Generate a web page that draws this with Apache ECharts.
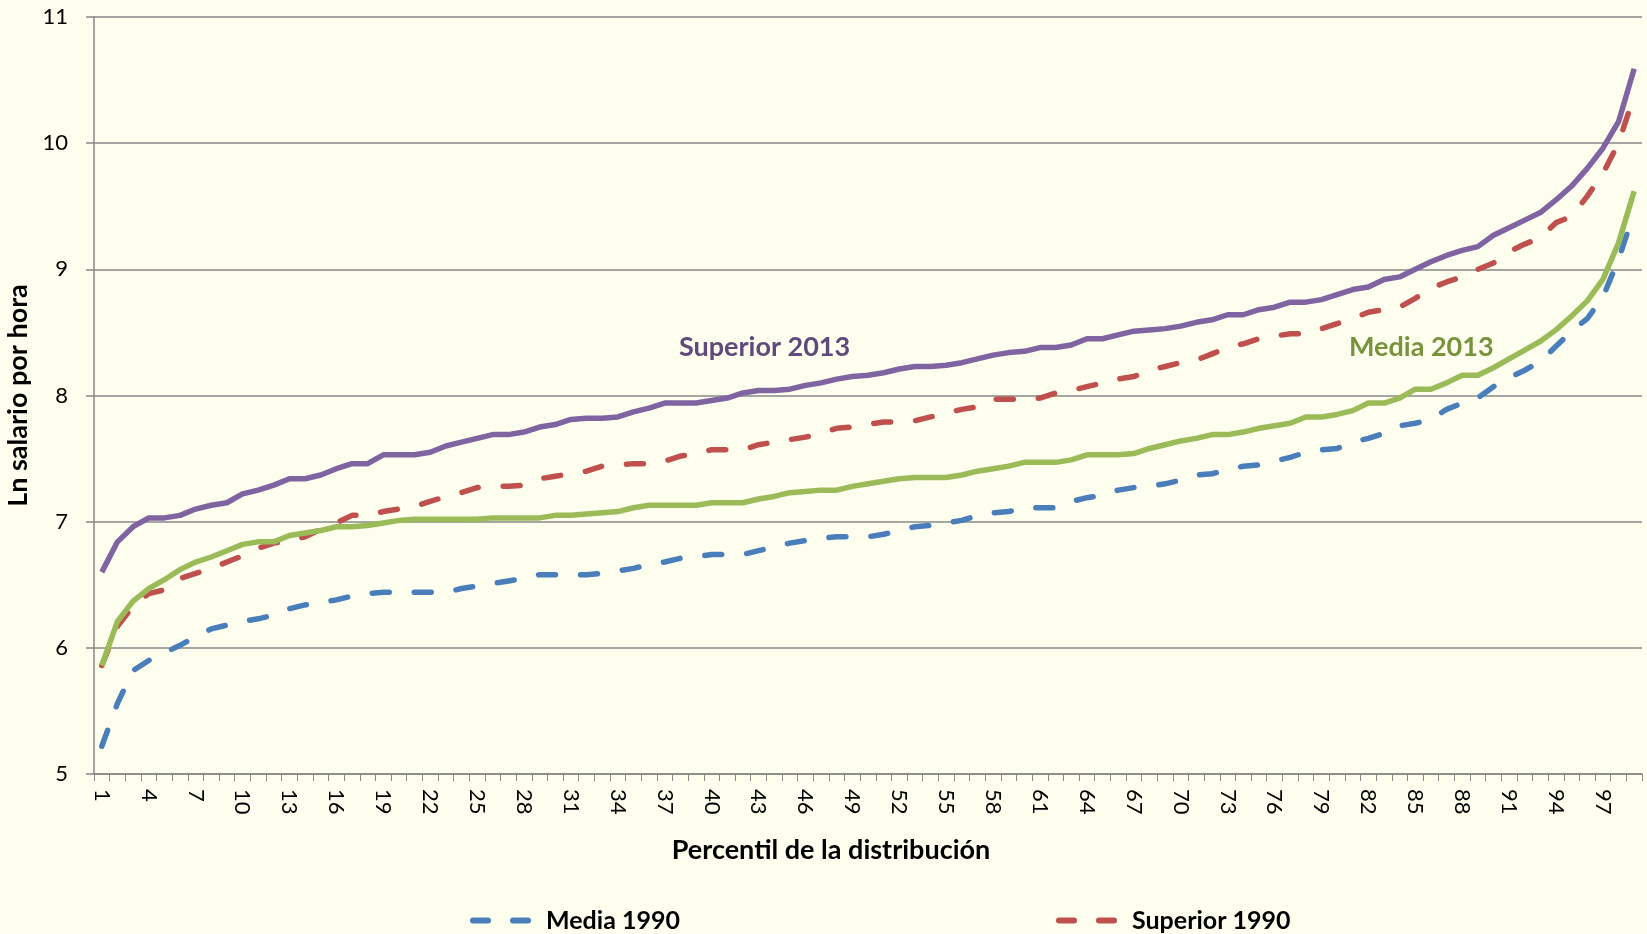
<!DOCTYPE html>
<html>
<head>
<meta charset="utf-8">
<script src="https://cdn.jsdelivr.net/npm/echarts@6/dist/echarts.min.js"></script>
<style>
html,body{margin:0;padding:0;background:#fefeef;}
#c{width:1647px;height:934px;}
</style>
</head>
<body>
<div id="c"></div>
<script>
var percentiles = [];
for (var i = 1; i <= 99; i++) percentiles.push(String(i));

var yTicks = [5, 6, 7, 8, 9, 10, 11];

var media1990 = [5.22,5.56,5.82,5.90,5.96,6.02,6.09,6.15,6.18,6.21,6.23,6.26,6.31,6.34,6.36,6.38,6.41,6.43,6.44,6.44,
6.44,6.44,6.44,6.47,6.49,6.51,6.53,6.55,6.58,6.58,6.58,6.58,6.59,6.61,6.63,6.66,6.68,6.71,6.72,6.74,
6.74,6.74,6.77,6.80,6.83,6.85,6.87,6.88,6.88,6.88,6.90,6.93,6.96,6.97,6.99,7.01,7.05,7.07,7.08,7.11,
7.11,7.11,7.16,7.19,7.21,7.25,7.27,7.28,7.30,7.33,7.37,7.38,7.41,7.44,7.45,7.48,7.51,7.55,7.57,7.58,
7.63,7.66,7.70,7.76,7.78,7.81,7.89,7.94,7.98,8.07,8.14,8.20,8.27,8.39,8.51,8.61,8.78,9.08,9.45];

var superior1990 = [5.86,6.17,6.33,6.43,6.46,6.55,6.59,6.63,6.68,6.73,6.79,6.83,6.85,6.88,6.94,6.99,7.05,7.05,7.08,7.10,
7.12,7.16,7.20,7.23,7.27,7.28,7.28,7.29,7.34,7.36,7.38,7.40,7.44,7.45,7.46,7.46,7.48,7.52,7.54,7.57,
7.57,7.57,7.61,7.63,7.65,7.67,7.70,7.74,7.75,7.77,7.79,7.79,7.80,7.83,7.86,7.89,7.91,7.97,7.97,7.97,
7.98,8.02,8.04,8.07,8.10,8.13,8.15,8.20,8.23,8.26,8.28,8.33,8.38,8.41,8.45,8.47,8.49,8.49,8.53,8.57,
8.61,8.66,8.68,8.70,8.77,8.85,8.90,8.94,9.00,9.05,9.14,9.20,9.25,9.37,9.42,9.58,9.76,10.00,10.38];

var superior2013 = [6.60,6.84,6.96,7.03,7.03,7.05,7.10,7.13,7.15,7.22,7.25,7.29,7.34,7.34,7.37,7.42,7.46,7.46,7.53,7.53,
7.53,7.55,7.60,7.63,7.66,7.69,7.69,7.71,7.75,7.77,7.81,7.82,7.82,7.83,7.87,7.90,7.94,7.94,7.94,7.96,
7.98,8.02,8.04,8.04,8.05,8.08,8.10,8.13,8.15,8.16,8.18,8.21,8.23,8.23,8.24,8.26,8.29,8.32,8.34,8.35,
8.38,8.38,8.40,8.45,8.45,8.48,8.51,8.52,8.53,8.55,8.58,8.60,8.64,8.64,8.68,8.70,8.74,8.74,8.76,8.80,
8.84,8.86,8.92,8.94,9.00,9.06,9.11,9.15,9.18,9.27,9.33,9.39,9.45,9.55,9.66,9.80,9.96,10.17,10.59];

var media2013 = [5.86,6.21,6.37,6.47,6.54,6.62,6.68,6.72,6.77,6.82,6.84,6.84,6.89,6.91,6.93,6.96,6.96,6.97,6.99,7.01,
7.02,7.02,7.02,7.02,7.02,7.03,7.03,7.03,7.03,7.05,7.05,7.06,7.07,7.08,7.11,7.13,7.13,7.13,7.13,7.15,
7.15,7.15,7.18,7.20,7.23,7.24,7.25,7.25,7.28,7.30,7.32,7.34,7.35,7.35,7.35,7.37,7.40,7.42,7.44,7.47,
7.47,7.47,7.49,7.53,7.53,7.53,7.54,7.58,7.61,7.64,7.66,7.69,7.69,7.71,7.74,7.76,7.78,7.83,7.83,7.85,
7.88,7.94,7.94,7.98,8.05,8.05,8.10,8.16,8.16,8.22,8.29,8.36,8.43,8.52,8.63,8.75,8.92,9.21,9.62];

var annotations = [
  {name: 'Superior 2013', at: '43', value: 8.38, color: '#604a7b'},
  {name: 'Media 2013', at: '85', value: 8.38, color: '#77933c'}
];

var FONT = 'Lato, "Open Sans", sans-serif';
var GRID_COLOR = '#878787';
var DASH = [17, 25];
var DASH_ICON = 'path://M3,0 H18 A3,3 0 0 1 18,6 H3 A3,3 0 0 1 3,0 Z M43,0 H58 A3,3 0 0 1 58,6 H43 A3,3 0 0 1 43,0 Z';

function noteMark(a) {
  return {
    symbol: 'rect', symbolSize: 1,
    itemStyle: {color: 'rgba(0,0,0,0)'},
    label: {show: true, position: 'inside', offset: [6, 0], formatter: a.name,
      color: a.color, fontFamily: FONT, fontWeight: 'bold', fontSize: 27},
    data: [{coord: [a.at, a.value]}]
  };
}

function legendFor(name, left) {
  return {
    data: [{name: name, icon: DASH_ICON}], left: left, top: 908, padding: 0,
    itemWidth: 61, itemHeight: 6, itemGap: 8,
    textStyle: {fontFamily: FONT, fontWeight: 'bold', fontSize: 25, color: '#000', padding: [0, 0, 0, 10]}
  };
}

var chart = echarts.init(document.getElementById('c'), null, {renderer: 'canvas'});
chart.setOption({
  backgroundColor: '#fefeef',
  animation: false,
  grid: {left: 94, right: 5, top: 17, height: 757, containLabel: false, outerBoundsMode: 'none'},
  legend: [legendFor('Media 1990', 470), legendFor('Superior 1990', 1056)],
  xAxis: {
    type: 'category',
    data: percentiles,
    boundaryGap: true,
    name: 'Percentil de la distribución',
    nameLocation: 'middle',
    nameGap: 63,
    nameTextStyle: {fontFamily: FONT, fontWeight: 'bold', fontSize: 27, color: '#000', padding: [0, 74, 0, 0]},
    axisLine: {show: true, lineStyle: {color: GRID_COLOR, width: 1.5}},
    axisTick: {show: true, interval: 0, length: 7, lineStyle: {color: GRID_COLOR, width: 1}},
    axisLabel: {interval: 2, rotate: -90, margin: 15, fontFamily: FONT, fontSize: 22, color: '#000'},
    splitLine: {show: false}
  },
  yAxis: {
    type: 'value',
    min: yTicks[0],
    max: yTicks[yTicks.length - 1],
    interval: 1,
    name: 'Ln salario por hora',
    nameLocation: 'middle',
    nameGap: 45,
    nameTextStyle: {fontFamily: FONT, fontWeight: 'bold', fontSize: 27, color: '#000'},
    axisLine: {show: true, lineStyle: {color: GRID_COLOR, width: 1.5}},
    axisTick: {show: true, length: 8, lineStyle: {color: GRID_COLOR, width: 1.5}},
    axisLabel: {margin: 26, fontFamily: FONT, fontSize: 22, color: '#000'},
    splitLine: {show: true, lineStyle: {color: GRID_COLOR, width: 1.5}}
  },
  series: [
    {name: 'Media 1990', type: 'line', data: media1990, symbol: 'none', showSymbol: false, z: 3,
     lineStyle: {color: '#4a7ebb', width: 5.5, type: DASH, cap: 'round', join: 'round'},
     itemStyle: {color: '#4a7ebb'}},
    {name: 'Superior 1990', type: 'line', data: superior1990, symbol: 'none', showSymbol: false, z: 3,
     lineStyle: {color: '#c0504d', width: 5.5, type: DASH, cap: 'round', join: 'round'},
     itemStyle: {color: '#c0504d'}},
    {name: 'Superior 2013', type: 'line', data: superior2013, symbol: 'none', showSymbol: false, z: 4,
     lineStyle: {color: '#8064a2', width: 5.5, join: 'round'},
     itemStyle: {color: '#8064a2'},
     markPoint: noteMark(annotations[0])},
    {name: 'Media 2013', type: 'line', data: media2013, symbol: 'none', showSymbol: false, z: 4,
     lineStyle: {color: '#9bbb59', width: 5.5, join: 'round'},
     itemStyle: {color: '#9bbb59'},
     markPoint: noteMark(annotations[1])}
  ]
});
</script>
</body>
</html>
